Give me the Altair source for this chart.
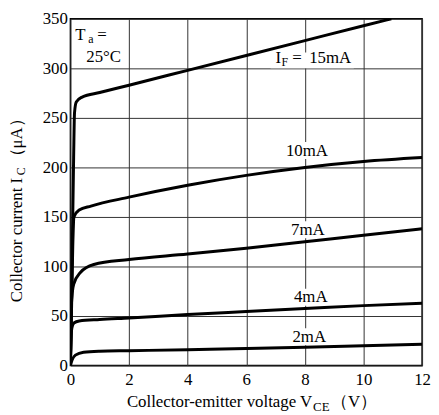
import altair as alt
import pandas as pd

# ---- data ----
vce_15 = [0, 0.03, 0.07, 0.11, 0.14, 0.2, 0.4, 1, 2, 4, 6, 8, 10, 10.95]
ic_15 = [0, 50, 130, 210, 255, 266, 271, 275.6, 283, 298, 313, 328, 343, 350]
vce_10 = [0, 0.04, 0.08, 0.12, 0.3, 0.7, 2, 4, 6, 8, 10, 12]
ic_10 = [0, 60, 120, 150, 157, 161, 170, 182, 192, 200, 206, 210]
vce_7 = [0, 0.03, 0.11, 0.34, 0.8, 2, 4, 6, 8, 10, 12]
ic_7 = [0, 60, 82, 94, 102, 107, 112.5, 118.5, 125, 131.5, 138]
vce_4 = [0, 0.02, 0.05, 0.12, 0.3, 1, 2, 4, 6, 8, 10, 12]
ic_4 = [0, 25, 38, 43, 45, 46.5, 48, 51.5, 54.5, 57.5, 60.5, 63]
vce_2 = [0, 0.05, 0.17, 0.45, 1, 2, 4, 6, 8, 10, 12]
ic_2 = [0, 5, 10.5, 13.5, 14.5, 15, 16, 17.2, 18.5, 20, 21.5]

series = [("15mA", vce_15, ic_15), ("10mA", vce_10, ic_10), ("7mA", vce_7, ic_7),
          ("4mA", vce_4, ic_4), ("2mA", vce_2, ic_2)]

x_ticks = [0, 2, 4, 6, 8, 10, 12]
y_ticks = [0, 50, 100, 150, 200, 250, 300, 350]

# curve labels
lab_names = ["10mA", "7mA", "4mA", "2mA"]
lab_x = [8.07, 8.1, 8.2, 8.15]
lab_y = [217, 137, 69, 29]

rows = []
for name, xs, ys in series:
    for i, (xv, yv) in enumerate(zip(xs, ys)):
        rows.append({"series": name, "i": i, "vce": xv, "ic": yv})
curves_df = pd.DataFrame(rows)

FONT = "Liberation Serif"
W, H = 355, 350
OX, OY = 70, 16  # plot origin on the page (for annotation placement)

xscale = alt.Scale(domain=[0, 12], nice=False, zero=False)
yscale = alt.Scale(domain=[0, 350], nice=False, zero=False)

xaxis = alt.Axis(values=x_ticks, title=None, grid=True, ticks=False, domain=False,
                 labelFont=FONT, labelFontSize=17, labelColor="black", labelPadding=6,
                 labelFlush=False)
yaxis = alt.Axis(values=y_ticks, title=None, grid=True, ticks=False, domain=False,
                 labelFont=FONT, labelFontSize=17, labelColor="black", labelPadding=3,
                 labelFlush=False)

curves = alt.Chart(curves_df).mark_line(color="black", strokeWidth=3, interpolate="monotone",
                                         clip=True).encode(
    x=alt.X("vce:Q", scale=xscale, axis=xaxis),
    y=alt.Y("ic:Q", scale=yscale, axis=yaxis),
    detail="series:N",
    order="i:O",
)

labels_df = pd.DataFrame({"t": lab_names, "x": lab_x, "y": lab_y})
# white backing boxes behind the labels (hide the grid line under the text)
box_df = pd.DataFrame({
    "x1": [v - 0.78 for v in lab_x] + [8.25 - 1.42],
    "x2": [v + 0.78 for v in lab_x] + [8.25 + 1.42],
    "y1": [v - 8.6 for v in lab_y] + [308 - 8],
    "y2": [v + 8.6 for v in lab_y] + [308 + 8],
})
boxes = alt.Chart(box_df).mark_rect(color="white").encode(
    x=alt.X("x1:Q", scale=xscale, axis=xaxis), x2="x2:Q",
    y=alt.Y("y1:Q", scale=yscale, axis=yaxis), y2="y2:Q")

lab_text = alt.Chart(labels_df).mark_text(font=FONT, fontSize=17, color="black",
                                          align="center", baseline="middle").encode(
    x=alt.X("x:Q", scale=xscale, axis=xaxis), y=alt.Y("y:Q", scale=yscale, axis=yaxis),
    text="t:N")


def one(**kw):
    return pd.DataFrame([kw])


def txt(s, px, py, size=17, angle=0, align="left"):
    return alt.Chart(one(a=0)).mark_text(text=s, font=FONT, fontSize=size, color="black",
                                       align=align, baseline="alphabetic", angle=angle).encode(
        x=alt.value(px - OX), y=alt.value(py - OY))


annots = [
    txt("I", 277, 61), txt("F", 283, 64, size=12), txt("=", 294, 61), txt("15mA", 311, 61),
    txt("T", 75, 37), txt("a", 88, 40, size=12), txt("=", 97, 37), txt("25°C", 86, 60),
    # x axis title
    txt("Collector-emitter voltage V", 127, 408), txt("CE", 315, 412, size=13),
    txt("（V）", 333, 408),
    # y axis title (rotated)
    txt("Collector current I", 21, 302, angle=270), txt("C", 24, 174, size=12, angle=270),
    txt("（μA）", 21, 164, angle=270),
]

chart = alt.layer(boxes, curves, lab_text, *annots).properties(
    width=W, height=H,
    padding={"left": 0, "top": 0, "right": 0, "bottom": 0},
    background="white",
).configure_view(stroke="black", strokeWidth=1.5).configure_axis(
    gridColor="#333333", gridWidth=1, gridOpacity=1)

chart.save("out.html", embed_options={"renderer": "svg", "actions": False})
